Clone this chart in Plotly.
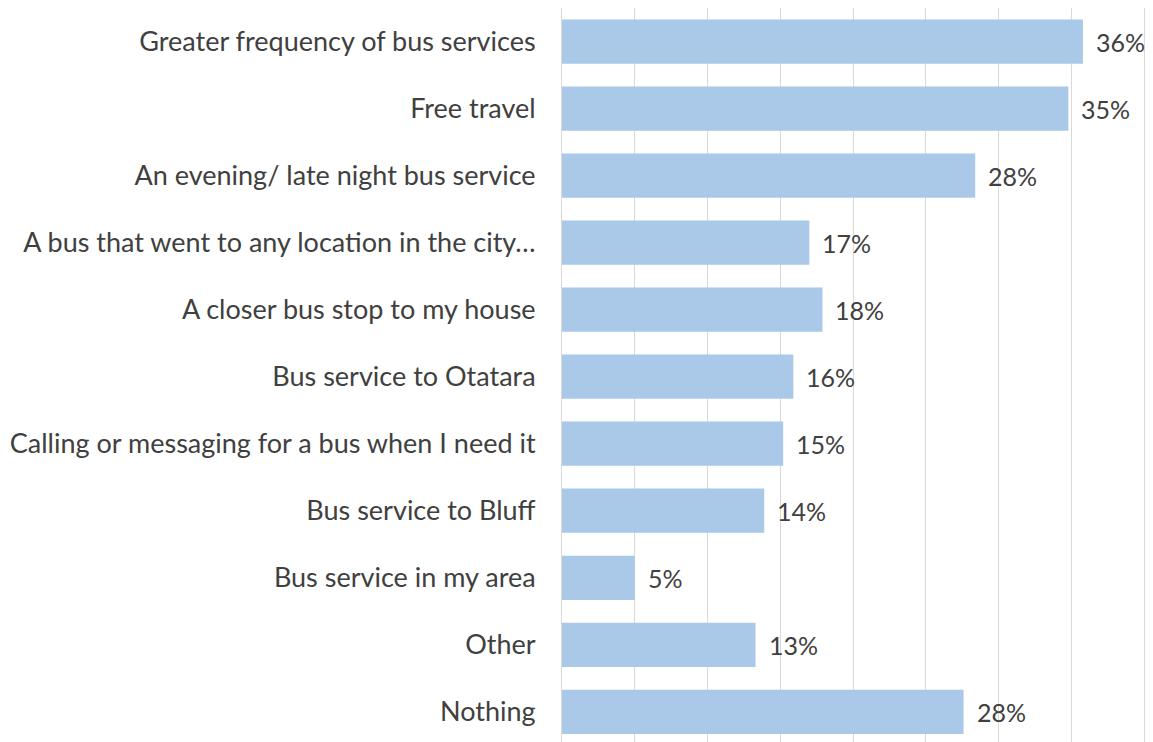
import plotly.graph_objects as go

categories = [
    "Greater frequency of bus services",
    "Free travel",
    "An evening/ late night bus service",
    "A bus that went to any location in the city…",
    "A closer bus stop to my house",
    "Bus service to Otatara",
    "Calling or messaging for a bus when I need it",
    "Bus service to Bluff",
    "Bus service in my area",
    "Other",
    "Nothing",
]
values = [35.8, 34.8, 28.4, 17.0, 17.9, 15.9, 15.2, 13.9, 5.0, 13.3, 27.6]
value_labels = ["36%", "35%", "28%", "17%", "18%", "16%", "15%", "14%", "5%", "13%", "28%"]

FONT = "Lato, 'Open Sans', sans-serif"
TXT = "#404040"
GRID = "#D9D9D9"

fig = go.Figure()
fig.add_trace(go.Bar(
    x=values, y=categories, orientation="h",
    marker=dict(color="#AAC8E7", line=dict(width=0)),
    width=0.66, hoverinfo="skip",
))

for c, v, t in zip(categories, values, value_labels):
    fig.add_annotation(x=v, y=c, text=t, showarrow=False, xanchor="left",
                       xshift=11, font=dict(family=FONT, size=25, color=TXT))

fig.update_layout(
    width=1153, height=742,
    margin=dict(l=562, r=9, t=8, b=0),
    paper_bgcolor="white", plot_bgcolor="white",
    showlegend=False,
    font=dict(family=FONT, size=27, color=TXT),
    xaxis=dict(range=[0, 40], dtick=5, showgrid=True, gridcolor=GRID,
               gridwidth=1, showticklabels=False, zeroline=False, showline=False),
    yaxis=dict(type="category", categoryorder="array", categoryarray=categories,
               range=[10.45, -0.5], showgrid=False, zeroline=False,
               showline=True, linecolor=GRID, linewidth=1, mirror=True,
               ticks="", ticklabelstandoff=20,
               tickfont=dict(family=FONT, size=27, color=TXT)),
)

fig.write_html("out.html")
